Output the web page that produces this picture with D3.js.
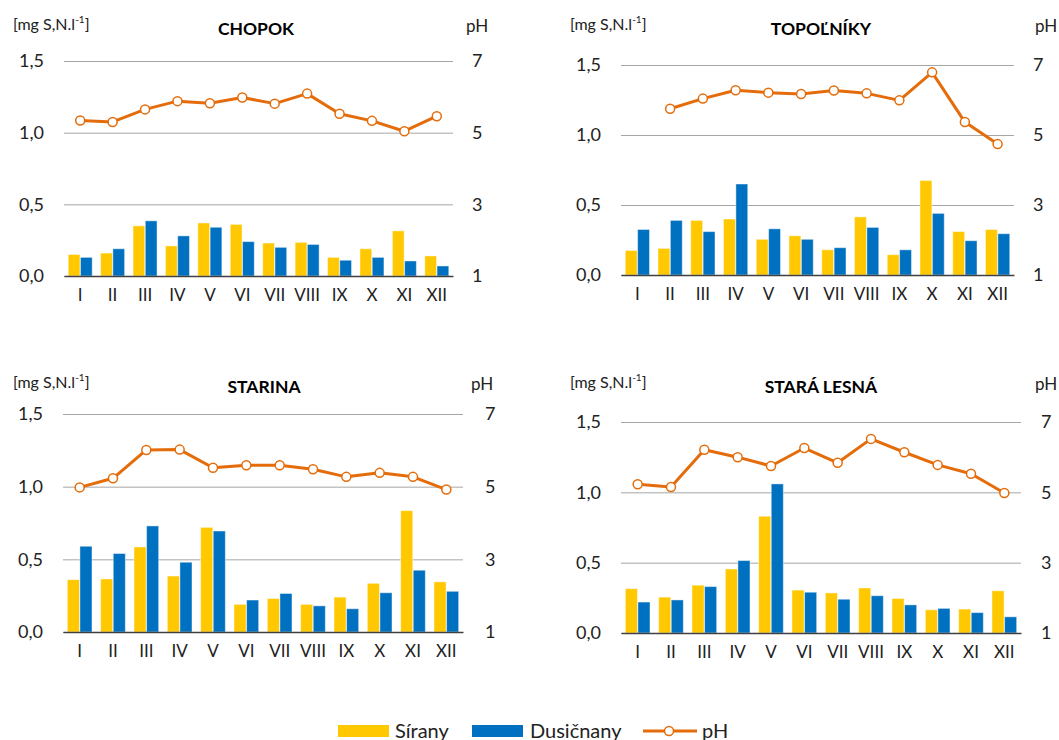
<!DOCTYPE html>
<html>
<head>
<meta charset="utf-8">
<script src="https://cdn.jsdelivr.net/npm/d3@7"></script>
<style>
  body { margin: 0; background: #fff; }
  text { font-family: Lato, "Open Sans", sans-serif; }
</style>
</head>
<body>
<svg id="chart"></svg>
<script>
// Month categories and axis ticks
var months = ["I", "II", "III", "IV", "V", "VI", "VII", "VIII", "IX", "X", "XI", "XII"];
var leftTicks = [0, 0.5, 1.0, 1.5];
var rightTicks = [1, 3, 5, 7];

// Values (mg S,N per litre and pH)
var chopokSirany     = [0.15, 0.16, 0.35, 0.21, 0.37, 0.36, 0.23, 0.235, 0.13, 0.19, 0.315, 0.14];
var chopokDusicnany  = [0.13, 0.19, 0.385, 0.28, 0.34, 0.24, 0.20, 0.22, 0.11, 0.13, 0.105, 0.07];
var chopokPh         = [5.34, 5.30, 5.65, 5.88, 5.82, 5.98, 5.81, 6.09, 5.53, 5.33, 5.04, 5.46];

var topolnikySirany    = [0.175, 0.19, 0.39, 0.40, 0.255, 0.28, 0.18, 0.415, 0.145, 0.675, 0.31, 0.325];
var topolnikyDusicnany = [0.325, 0.39, 0.31, 0.65, 0.33, 0.255, 0.195, 0.34, 0.18, 0.44, 0.245, 0.295];
var topolnikyPh        = [null, 5.75, 6.04, 6.28, 6.21, 6.17, 6.27, 6.19, 5.99, 6.79, 5.37, 4.74];

var starinaSirany    = [0.36, 0.365, 0.585, 0.385, 0.72, 0.19, 0.23, 0.19, 0.24, 0.335, 0.835, 0.345];
var starinaDusicnany = [0.59, 0.54, 0.73, 0.48, 0.695, 0.22, 0.265, 0.18, 0.16, 0.27, 0.425, 0.28];
var starinaPh        = [4.98, 5.23, 6.01, 6.02, 5.52, 5.59, 5.59, 5.48, 5.27, 5.38, 5.27, 4.92];

var staraLesnaSirany    = [0.315, 0.255, 0.34, 0.455, 0.83, 0.305, 0.285, 0.32, 0.245, 0.165, 0.17, 0.30];
var staraLesnaDusicnany = [0.22, 0.235, 0.33, 0.515, 1.06, 0.29, 0.24, 0.265, 0.20, 0.175, 0.145, 0.115];
var staraLesnaPh        = [5.23, 5.15, 6.21, 6.00, 5.75, 6.26, 5.84, 6.52, 6.14, 5.78, 5.53, 4.98];

var seriesNames = ["Sírany", "Dusičnany", "pH"];

var colSirany = "#FFC800", colDus = "#0070C0", colPh = "#E46C0A";

var svg = d3.select("#chart").attr("width", 1059).attr("height", 740);

// panel frames: plot left/right, top (1.5) and bottom (0), title centre
var panels = [
  {name: "CHOPOK", sir: chopokSirany, dus: chopokDusicnany, ph: chopokPh,
   x0: 64, x1: 453, y0: 61, y1: 276, ox: 0, oy: 0, titleX: 256, rightX: 472, phX: 466},
  {name: "TOPOĽNÍKY", sir: topolnikySirany, dus: topolnikyDusicnany, ph: topolnikyPh,
   x0: 621, x1: 1014, y0: 65, y1: 275, ox: 557, oy: 0, titleX: 821, rightX: 1033, phX: 1035},
  {name: "STARINA", sir: starinaSirany, dus: starinaDusicnany, ph: starinaPh,
   x0: 63, x1: 463, y0: 414, y1: 632, ox: 0, oy: 358, titleX: 264, rightX: 485, phX: 471},
  {name: "STARÁ LESNÁ", sir: staraLesnaSirany, dus: staraLesnaDusicnany, ph: staraLesnaPh,
   x0: 621, x1: 1021, y0: 422, y1: 633, ox: 557, oy: 358, titleX: 821, rightX: 1041, phX: 1035}
];

var fmt = function(d) { return d3.format(".1f")(d).replace(".", ","); };

panels.forEach(function(p) {
  var g = svg.append("g");
  var w = p.x1 - p.x0;

  var x = d3.scaleBand().domain(months).range([p.x0, p.x1]).paddingInner(0).paddingOuter(0);
  var inner = d3.scaleBand().domain(["s", "d"]).range([x.bandwidth() * 0.13, x.bandwidth() * 0.87]).paddingInner(0.04);
  var y = d3.scaleLinear().domain([0, 1.5]).range([p.y1, p.y0]);
  var yPh = d3.scaleLinear().domain([1, 7]).range([p.y1, p.y0]);

  // gridlines + left labels
  g.append("g")
    .attr("transform", "translate(" + p.x0 + ",0)")
    .call(d3.axisLeft(y).tickValues(leftTicks).tickFormat(fmt).tickSize(-w).tickPadding(20))
    .call(function(a) { a.select(".domain").remove(); })
    .call(function(a) { a.selectAll(".tick line").attr("stroke", "#A6A6A6").attr("stroke-width", 1); })
    .call(function(a) { a.selectAll(".tick text").attr("font-size", 18).attr("fill", "#222"); });

  // right pH axis labels
  g.append("g")
    .attr("transform", "translate(" + p.rightX + ",0)")
    .call(d3.axisRight(yPh).tickValues(rightTicks).tickFormat(d3.format("d")).tickSize(0).tickPadding(0))
    .call(function(a) { a.select(".domain").remove(); })
    .call(function(a) { a.selectAll(".tick text").attr("font-size", 18).attr("fill", "#222"); });

  // bars
  var rows = months.map(function(m, i) { return {m: m, s: p.sir[i], d: p.dus[i], ph: p.ph[i]}; });
  g.selectAll(".sir").data(rows).enter().append("rect")
    .attr("x", function(d) { return x(d.m) + inner("s"); })
    .attr("width", inner.bandwidth())
    .attr("y", function(d) { return y(d.s); })
    .attr("height", function(d) { return p.y1 - y(d.s); })
    .attr("fill", colSirany).attr("stroke", "rgba(255,255,255,0.45)").attr("stroke-width", 1);
  g.selectAll(".dus").data(rows).enter().append("rect")
    .attr("x", function(d) { return x(d.m) + inner("d"); })
    .attr("width", inner.bandwidth())
    .attr("y", function(d) { return y(d.d); })
    .attr("height", function(d) { return p.y1 - y(d.d); })
    .attr("fill", colDus).attr("stroke", "rgba(255,255,255,0.45)").attr("stroke-width", 1);

  // bottom axis (zero line + month labels)
  g.append("g")
    .attr("transform", "translate(0," + p.y1 + ")")
    .call(d3.axisBottom(x).tickSize(0).tickPadding(13))
    .call(function(a) { a.select(".domain").attr("stroke", "#404040").attr("stroke-width", 1.5); })
    .call(function(a) { a.selectAll(".tick text").attr("font-size", 17).attr("fill", "#222"); });

  // pH line
  var cx = function(d) { return x(d.m) + x.bandwidth() / 2; };
  var line = d3.line().defined(function(d) { return d.ph != null; }).x(cx).y(function(d) { return yPh(d.ph); });
  g.append("path").datum(rows).attr("d", line)
    .attr("fill", "none").attr("stroke", colPh).attr("stroke-width", 3).attr("stroke-linejoin", "round");
  g.selectAll(".pt").data(rows.filter(function(d) { return d.ph != null; })).enter().append("circle")
    .attr("cx", cx).attr("cy", function(d) { return yPh(d.ph); }).attr("r", 4.5)
    .attr("fill", "#fff").attr("stroke", colPh).attr("stroke-width", 1.5);

  // titles and unit labels
  g.append("text").attr("x", p.titleX).attr("y", p.oy + 35).attr("text-anchor", "middle")
    .attr("font-size", 17.5).attr("font-weight", "bold").attr("fill", "#000").text(p.name);
  var u = g.append("text").attr("x", 13 + p.ox).attr("y", p.oy + 30).attr("font-size", 16).attr("fill", "#222");
  u.append("tspan").text("[mg S,N.l");
  u.append("tspan").attr("font-size", 10).attr("dy", -7).text("-1");
  u.append("tspan").attr("dy", 7).text("]");
  g.append("text").attr("x", p.phX).attr("y", p.oy + 32).attr("font-size", 17).attr("fill", "#222").text("pH");
});

// legend
var lg = svg.append("g");
lg.append("rect").attr("x", 338).attr("y", 725).attr("width", 51).attr("height", 12).attr("fill", colSirany);
lg.append("text").attr("x", 395).attr("y", 738).attr("font-size", 20).attr("fill", "#222").text(seriesNames[0]);
lg.append("rect").attr("x", 472).attr("y", 725).attr("width", 51).attr("height", 12).attr("fill", colDus);
lg.append("text").attr("x", 530).attr("y", 738).attr("font-size", 20).attr("fill", "#222").text(seriesNames[1]);
lg.append("line").attr("x1", 643).attr("x2", 697).attr("y1", 731).attr("y2", 731).attr("stroke", colPh).attr("stroke-width", 3);
lg.append("circle").attr("cx", 669).attr("cy", 731).attr("r", 4.5).attr("fill", "#fff").attr("stroke", colPh).attr("stroke-width", 1.5);
lg.append("text").attr("x", 702).attr("y", 738).attr("font-size", 20).attr("fill", "#222").text(seriesNames[2]);
</script>
</body>
</html>
